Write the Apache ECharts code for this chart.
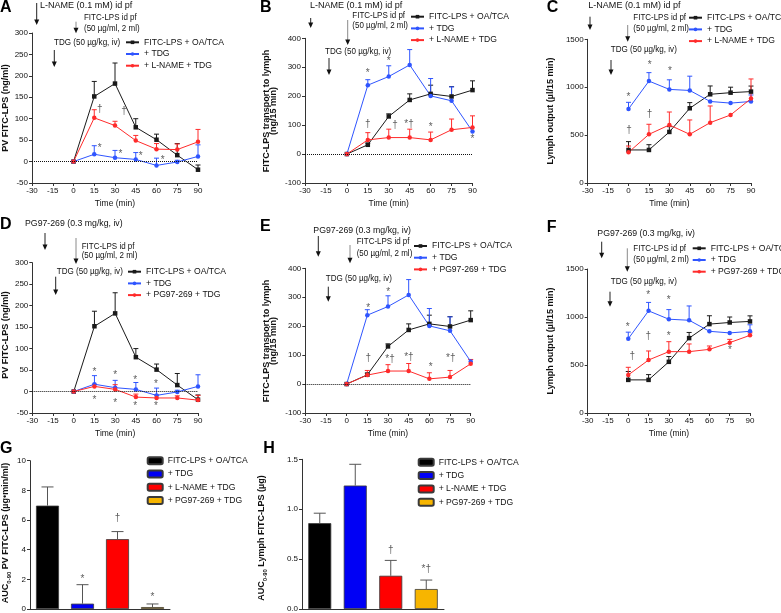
<!DOCTYPE html>
<html><head><meta charset="utf-8">
<script src="https://cdn.jsdelivr.net/npm/echarts@6/dist/echarts.min.js"></script>
<style>html,body{margin:0;padding:0;background:#fff}#c{width:781px;height:613px}</style>
</head><body><div id="c"></div>
<script>
const FONT = "'Liberation Sans', Arial, Helvetica, sans-serif";

// ---------- data ----------
const times = [0, 15, 30, 45, 60, 75, 90];

// Portal venous FITC-LPS (ng/ml) – panels A, D
const pvCtrl    = [0, 152, 182, 80, 51, 15, -19];
const pvCtrlErr = [null, 187, 230, 100, 64, 42, -8];
const pvTdg     = [0, 17, 9, 5, -9, -1, 12];
const pvTdgErr  = [null, 37, 26, 21, 8, 3, 39];
const pvLname   = [0, 102, 84, 49, 29, 28, 46];
const pvLnameErr= [null, 121, 94, 61, 42, 41, 75];
const pvPg      = [0, 12, 5, -13, -15, -15, -20];
const pvPgErr   = [null, 17, 16, -6, -8, -10, -9];

// FITC-LPS transport to lymph (ng/15 min) – panels B, E
const lyCtrl    = [0, 32, 130, 187, 208, 199, 221];
const lyCtrlErr = [null, 38, 139, 208, 238, 233, 253];
const lyTdg     = [0, 238, 268, 308, 201, 184, 78];
const lyTdgErr  = [null, 257, 305, 361, 261, 232, null];
const lyLname   = [0, 49, 57, 57, 49, 84, 92];
const lyLnameErr= [null, 74, 86, 86, 76, 121, 132];
const lyPg      = [0, 31, 45, 45, 18, 24, 70];
const lyPgErr   = [null, 47, 67, 71, 39, 47, 85];

// Lymph output (µl/15 min) – panels C, F
const loCtrl    = [345, 345, 533, 780, 926, 943, 954];
const loCtrlErr = [432, 400, 588, 839, 1013, 1000, 1012];
const loTdg     = [773, 1064, 977, 966, 851, 834, 851];
const loTdgErr  = [842, 1152, 1077, 1115, null, null, 919];
const loLname   = [320, 508, 606, 508, 630, 710, 881];
const loLnameErr= [386, 613, 741, 658, 804, null, 1086];
const loPg      = [396, 552, 639, 639, 663, 733, 809];
const loPgErr   = [476, 646, 743, 719, 698, 767, 835];

// AUC bars – panels G, H
const barCats = ['FITC-LPS + OA/TCA', '+ TDG', '+ L-NAME + TDG', '+ PG97-269 + TDG'];
const aucPv     = [6.97, 0.36, 4.71, 0.13];
const aucPvErr  = [8.23, 1.64, 5.22, 0.34];
const aucLy     = [0.86, 1.237, 0.333, 0.2];
const aucLyErr  = [0.96, 1.45, 0.487, 0.29];

// significance marks [x, y, text]
const annA = [[19,121,'†'],[36.5,117,'†'],[19,36,'*'],[34,24,'*'],[48.5,18,'*'],[64.4,8,'*']];
const annB = [[15,288,'*'],[30,328,'*'],[15,103,'†'],[34.5,101,'†'],[44.5,107,'*†'],[60,101,'*'],[90,61,'*']];
const annC = [[0,919,'*'],[15.5,1257,'*'],[30.5,1190,'*'],[15.5,717,'†'],[0.4,553,'†']];
const annD = [[15,51,'*'],[30,43,'*'],[44.5,33,'*'],[59.6,22.5,'*'],[15,-14,'*'],[30,-22.5,'*'],[44.5,-28,'*'],[59.6,-28,'*']];
const annE = [[15.7,272,'*'],[30.2,327,'*'],[15.7,88,'†'],[31.5,88,'*†'],[45.2,96,'*†'],[61,67,'*'],[75.5,93,'*†'],[90.2,116,'*'],[90.2,33,'*']];
const annF = [[-0.4,924,'*'],[14.8,1253,'*'],[29.9,1201,'*'],[3,594,'†'],[14.8,795,'†'],[29.9,830,'*'],[75.2,684,'*']];
const annG = [[1,2.2,'*'],[2,6.1,'†'],[3,0.96,'*']];
const annH = [[2,0.593,'†'],[3,0.41,'*†']];

// ---------- styling ----------
const BLACK = '#1a1a1a', BLUE = '#2f55ff', RED = '#ff2b2b';
const BAR_COLORS = ['#000000', '#0000f5', '#ff0000', '#f7b500'];
const AX = '#333';

const grids = [
  {left:32, top:33, width:166, height:150},      // A
  {left:305, top:38.3, width:167.5, height:144.7},// B
  {left:587.7, top:39.3, width:163.3, height:143.7},// C
  {left:32.3, top:262.7, width:165.7, height:150.3},// D
  {left:305.3, top:268.3, width:165.4, height:144.7},// E
  {left:587.7, top:269, width:162.3, height:144},// F
  {left:30, top:460.7, width:140, height:148.6},// G
  {left:302, top:459.3, width:142, height:150}// H
];
const yCfg = [
  {min:-50,max:300,interval:50},
  {min:-100,max:400,interval:100},
  {min:0,max:1500,interval:500},
  {min:-50,max:300,interval:50},
  {min:-100,max:400,interval:100},
  {min:0,max:1500,interval:500},
  {min:0,max:10,interval:2},
  {min:0,max:1.5,interval:0.5}
];

const xAxes = [], yAxes = [];
grids.forEach((g,i)=>{
  if (i < 6) {
    xAxes.push({gridIndex:i, type:'value', min:-30, max:90, interval:15,
      name:'Time (min)', nameLocation:'middle', nameGap:16,
      nameTextStyle:{fontSize:8.5, fontFamily:FONT, color:'#111'},
      axisLine:{show:true, onZero:false, lineStyle:{color:AX, width:1}},
      axisTick:{show:true, length:3, lineStyle:{color:AX}},
      axisLabel:{fontSize:8, fontFamily:FONT, color:'#111', margin:4, formatter:v=>String(v)},
      splitLine:{show:false}});
  } else {
    xAxes.push({gridIndex:i, type:'category', data:barCats,
      axisLine:{show:true, lineStyle:{color:AX, width:1}},
      axisTick:{show:false}, axisLabel:{show:false}});
  }
  yAxes.push(Object.assign({gridIndex:i, type:'value',
    axisLine:{show:true, onZero:false, lineStyle:{color:AX, width:1}},
    axisTick:{show:true, length:3, lineStyle:{color:AX}},
    axisLabel:{fontSize:8, fontFamily:FONT, color:'#111', margin:4,
      formatter: i===7 ? (v=>v.toFixed(1)) : (v=>String(v))},
    splitLine:{show:false}}, yCfg[i]));
});

const series = [];
function lineS(gi, key, label, vals, color, symbol, zero){
  const s = {type:'line', name:key+'|'+label, xAxisIndex:gi, yAxisIndex:gi,
    data: times.map((t,i)=>[t, vals[i]]), symbol, symbolSize:4.5,
    itemStyle:{color}, lineStyle:{color, width:1}, z:4, animation:false};
  if (zero) s.markLine = {silent:true, symbol:'none', label:{show:false},
    lineStyle:{type:'dotted', color:'#111', width:1}, data:[{yAxis:0}], animation:false};
  series.push(s);
}
function errS(gi, xs, vals, errs, color, cap){
  const data = [];
  xs.forEach((x,i)=>{ if (errs[i] !== null) data.push([x, vals[i], errs[i]]); });
  series.push({type:'custom', xAxisIndex:gi, yAxisIndex:gi, data, z:3, silent:true, animation:false,
    renderItem:(params, api)=>{
      const p1 = api.coord([api.value(0), api.value(1)]);
      const p2 = api.coord([api.value(0), api.value(2)]);
      return {type:'group', children:[
        {type:'line', shape:{x1:p1[0],y1:p1[1],x2:p2[0],y2:p2[1]}, style:{stroke:color, lineWidth:1}},
        {type:'line', shape:{x1:p2[0]-cap,y1:p2[1],x2:p2[0]+cap,y2:p2[1]}, style:{stroke:color, lineWidth:1}}
      ]};
    }});
}
function annS(gi, ann){
  series.push({type:'scatter', xAxisIndex:gi, yAxisIndex:gi, silent:true, animation:false, z:6,
    symbolSize:1, itemStyle:{color:'rgba(0,0,0,0)'},
    data: ann.map(a=>({value:[a[0], a[1]],
      label:{formatter:a[2], offset: a[2]==='*' ? [0,2.5] : (a[2]==='*†' ? [0,1] : [0,0])}})),
    label:{show:true, position:'inside', fontSize:10, fontFamily:FONT, color:'#333'}});
}

const panels = [
  {gi:0, key:'A', c:pvCtrl, ce:pvCtrlErr, t:pvTdg, te:pvTdgErr, r:pvLname, re:pvLnameErr, rl:'+ L-NAME + TDG', ann:annA, zero:true},
  {gi:1, key:'B', c:lyCtrl, ce:lyCtrlErr, t:lyTdg, te:lyTdgErr, r:lyLname, re:lyLnameErr, rl:'+ L-NAME + TDG', ann:annB, zero:true},
  {gi:2, key:'C', c:loCtrl, ce:loCtrlErr, t:loTdg, te:loTdgErr, r:loLname, re:loLnameErr, rl:'+ L-NAME + TDG', ann:annC, zero:false},
  {gi:3, key:'D', c:pvCtrl, ce:pvCtrlErr, t:pvTdg, te:pvTdgErr, r:pvPg, re:pvPgErr, rl:'+ PG97-269 + TDG', ann:annD, zero:true},
  {gi:4, key:'E', c:lyCtrl, ce:lyCtrlErr, t:lyTdg, te:lyTdgErr, r:lyPg, re:lyPgErr, rl:'+ PG97-269 + TDG', ann:annE, zero:true},
  {gi:5, key:'F', c:loCtrl, ce:loCtrlErr, t:loTdg, te:loTdgErr, r:loPg, re:loPgErr, rl:'+ PG97-269 + TDG', ann:annF, zero:false}
];
panels.forEach(p=>{
  errS(p.gi, times, p.c, p.ce, BLACK, 2.5);
  errS(p.gi, times, p.t, p.te, BLUE, 2.5);
  errS(p.gi, times, p.r, p.re, RED, 2.5);
  lineS(p.gi, p.key, 'FITC-LPS + OA/TCA', p.c, BLACK, 'rect', p.zero);
  lineS(p.gi, p.key, '+ TDG', p.t, BLUE, 'circle', false);
  lineS(p.gi, p.key, p.rl, p.r, RED, 'circle', false);
  annS(p.gi, p.ann);
});

function barPanel(gi, key, vals, errs, ann){
  errS(gi, [0,1,2,3], vals, errs, '#555', 6);
  vals.forEach((v,i)=>{
    const d = vals.map((_,j)=> j===i ? v : '-');
    series.push({type:'bar', name:key+'|'+barCats[i], xAxisIndex:gi, yAxisIndex:gi, data:d,
      barWidth:23, barGap:'-100%', z:2, animation:false,
      itemStyle:{color:BAR_COLORS[i], borderColor:'#3a3a3a', borderWidth:0.8}});
  });
  annS(gi, ann);
}
barPanel(6, 'G', aucPv, aucPvErr, annG);
barPanel(7, 'H', aucLy, aucLyErr, annH);

function legendAt(key, left, top, labels, bar){
  return {orient:'vertical', left, top, padding:0, selectedMode:false,
    itemWidth: bar ? 15 : 13, itemHeight: bar ? 7 : 4.5, itemGap: bar ? 3.3 : 1.7,
    textStyle:{fontSize:8.6, fontFamily:FONT, color:'#111', lineHeight:10},
    formatter: n=>n.split('|')[1],
    data: labels.map(l=>key+'|'+l)};
}
const L1 = ['FITC-LPS + OA/TCA', '+ TDG', '+ L-NAME + TDG'];
const L2 = ['FITC-LPS + OA/TCA', '+ TDG', '+ PG97-269 + TDG'];
const legends = [
  legendAt('A', 125, 37.3, L1), legendAt('B', 410, 11.7, L1), legendAt('C', 688, 12.7, L1),
  legendAt('D', 127, 266.7, L2), legendAt('E', 413, 241, L2), legendAt('F', 691.7, 243.3, L2),
  legendAt('G', 146.7, 455.7, barCats, true), legendAt('H', 417.7, 457.3, barCats, true)
];

// ---------- annotation graphics ----------
const G = [];
function T(x, y, text, o={}){
  G.push({type:'text', x, y, rotation:o.rot||0, scaleX:o.sx||1, silent:true,
    style:{text, font:(o.bold?'bold ':'')+(o.size||9.5)+'px '+FONT, fill:o.color||'#111',
      align:o.align||'left', verticalAlign:'middle'}});
}
function Arrow(x, y1, y2, shaft){
  G.push({type:'line', silent:true, shape:{x1:x,y1:y1,x2:x,y2:y2-3}, style:{stroke:shaft||'#222', lineWidth:1}});
  G.push({type:'polygon', silent:true, shape:{points:[[x-2.5,y2-5.5],[x+2.5,y2-5.5],[x,y2]]}, style:{fill:'#111'}});
}
// panel letters
[['A',0,7.5],['B',260,7.3],['C',546.7,7.7],['D',0,225],['E',260,226.7],['F',546.7,227.3],['G',0,449],['H',263.3,449]]
  .forEach(a=>T(a[1], a[2], a[0], {bold:true, size:16, color:'#000'}));

// treatment markers
function treat(first, fsx, fx, fy, ax, ay1, ay2, fitc, tdg){
  T(fx, fy, first, {sx:fsx}); Arrow(ax, ay1, ay2);
  T(fitc.x, fitc.y, 'FITC-LPS id pf', {sx:0.84}); T(fitc.x, fitc.y2, '(50 µg/ml, 2 ml)', {sx:0.84});
  Arrow(fitc.ax, fitc.a1, fitc.a2, '#8a8a8a');
  T(tdg.x, tdg.y, 'TDG (50 µg/kg, iv)', {sx:0.85}); Arrow(tdg.ax, tdg.a1, tdg.a2);
}
treat('L-NAME (0.1 mM) id pf', 0.95, 40, 5.7, 36.7, 3, 25,
  {x:84, y:17, y2:28, ax:76, a1:21.7, a2:33.3}, {x:54, y:42, ax:54.3, a1:50, a2:67});
treat('L-NAME (0.1 mM) id pf', 0.95, 310, 5.3, 310.7, 18, 28,
  {x:352.3, y:15.7, y2:25.5, ax:347.7, a1:20, a2:45}, {x:325, y:51.7, ax:329, a1:58, a2:75});
treat('L-NAME (0.1 mM) id pf', 0.95, 588.3, 5.7, 590, 16.7, 30,
  {x:633.3, y:17.7, y2:28.3, ax:627.7, a1:25, a2:41.7}, {x:610.7, y:49.3, ax:611, a1:60, a2:75});
treat('PG97-269 (0.3 mg/kg, iv)', 0.92, 25, 223.3, 45, 233, 250,
  {x:81.7, y:246, y2:255.7, ax:76, a1:238, a2:264}, {x:56.7, y:271.7, ax:55.7, a1:276.7, a2:295});
treat('PG97-269 (0.3 mg/kg, iv)', 0.92, 313.3, 230.7, 318.3, 236, 256.7,
  {x:356.7, y:241.7, y2:253.3, ax:350, a1:245, a2:263.3}, {x:325.7, y:278.3, ax:328.3, a1:286.7, a2:301.7});
treat('PG97-269 (0.3 mg/kg, iv)', 0.92, 597.3, 233.3, 601.7, 241.7, 258.3,
  {x:633.3, y:248.3, y2:259.3, ax:627.3, a1:248.3, a2:271.7}, {x:610.7, y:281.7, ax:610, a1:291.7, a2:306.7});

// y-axis titles
const R = Math.PI/2;
T(6, 108, 'PV FITC-LPS (ng/ml)', {rot:R, bold:true, align:'center', size:9});
T(267, 111, 'FITC-LPS transport to lymph', {rot:R, bold:true, align:'center', size:9});
T(274, 111, '(ng/15 min)', {rot:R, bold:true, align:'center', size:9});
T(550.5, 111, 'Lymph output (µl/15 min)', {rot:R, bold:true, align:'center', size:9});
T(6, 335, 'PV FITC-LPS (ng/ml)', {rot:R, bold:true, align:'center', size:9});
T(267, 341, 'FITC-LPS transport to lymph', {rot:R, bold:true, align:'center', size:9});
T(274, 341, '(ng/15 min)', {rot:R, bold:true, align:'center', size:9});
T(550.5, 341, 'Lymph output (µl/15 min)', {rot:R, bold:true, align:'center', size:9});
function aucTitle(x, y, rest){
  G.push({type:'text', x, y, rotation:R, silent:true,
    style:{text:'{a|AUC}{s|0-90}{a| '+rest+'}', align:'center', verticalAlign:'middle',
      rich:{a:{font:'bold 9px '+FONT, fill:'#111', lineHeight:12},
            s:{font:'bold 6px '+FONT, fill:'#111', lineHeight:7, verticalAlign:'bottom'}}}});
}
aucTitle(6, 533, 'PV FITC-LPS (µg•min/ml)');
aucTitle(262, 538, 'Lymph FITC-LPS (µg)');

const chart = echarts.init(document.getElementById('c'), null, {renderer:'canvas'});
chart.setOption({
  animation:false, backgroundColor:'#fff',
  textStyle:{fontFamily:FONT},
  grid: grids.map(g=>Object.assign({containLabel:false}, g)),
  xAxis: xAxes, yAxis: yAxes, series, legend: legends, graphic: G
});
</script></body></html>
